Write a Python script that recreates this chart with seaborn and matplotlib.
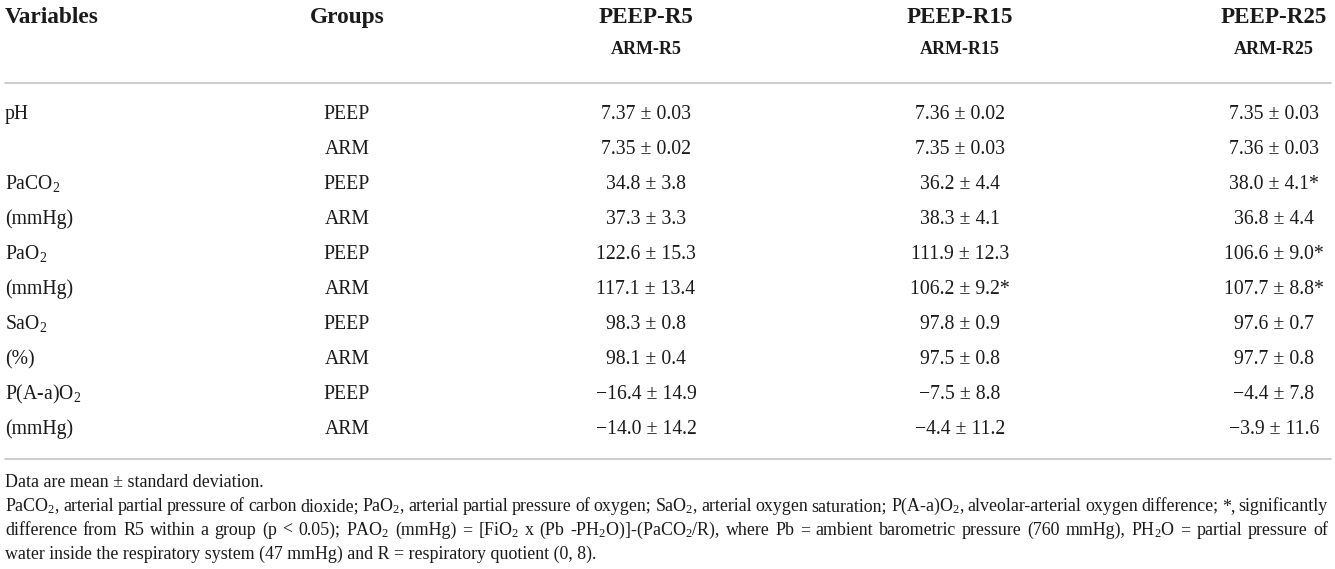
import matplotlib
matplotlib.use("Agg")
import matplotlib.pyplot as plt
import seaborn as sns
import pandas as pd

# table content
variables = ["pH", "", "PaCO$_2$", "(mmHg)", "PaO$_2$", "(mmHg)",
             "SaO$_2$", "(%)", "P(A-a)O$_2$", "(mmHg)"]
groups = ["PEEP", "ARM"] * 5
decimals = [2, 2, 1, 1, 1, 1, 1, 1, 1, 1]

r5_mean = [7.37, 7.35, 34.8, 37.3, 122.6, 117.1, 98.3, 98.1, -16.4, -14.0]
r5_sd = [0.03, 0.02, 3.8, 3.3, 15.3, 13.4, 0.8, 0.4, 14.9, 14.2]
r5_star = [0, 0, 0, 0, 0, 0, 0, 0, 0, 0]

r15_mean = [7.36, 7.35, 36.2, 38.3, 111.9, 106.2, 97.8, 97.5, -7.5, -4.4]
r15_sd = [0.02, 0.03, 4.4, 4.1, 12.3, 9.2, 0.9, 0.8, 8.8, 11.2]
r15_star = [0, 0, 0, 0, 0, 1, 0, 0, 0, 0]

r25_mean = [7.35, 7.36, 38.0, 36.8, 106.6, 107.7, 97.6, 97.7, -4.4, -3.9]
r25_sd = [0.03, 0.03, 4.1, 4.4, 9.0, 8.8, 0.7, 0.8, 7.8, 11.6]
r25_star = [0, 0, 1, 0, 1, 1, 0, 0, 0, 0]

col_top = ["PEEP-R5", "PEEP-R15", "PEEP-R25"]
col_sub = ["ARM-R5", "ARM-R15", "ARM-R25"]

notes = [
    "Data are mean \u00b1 standard deviation.",
    "PaCO$_2$, arterial partial pressure of carbon dioxide; PaO$_2$, arterial partial pressure of oxygen; "
    "SaO$_2$, arterial oxygen saturation; P(A-a)O$_2$, alveolar-arterial oxygen difference; *, significantly",
    "difference from R5 within a group (p < 0.05); PAO$_2$ (mmHg) = [FiO$_2$ x (Pb -PH$_2$O)]-(PaCO$_2$/R), "
    "where Pb = ambient barometric pressure (760 mmHg), PH$_2$O = partial pressure of",
    "water inside the respiratory system (47 mmHg) and R = respiratory quotient (0, 8).",
]
justified = [False, True, True, False]


def fmt(m, s, d, star):
    txt = f"{m:.{d}f} \u00b1 {s:.{d}f}".replace("-", "\u2212")
    if star:
        txt += "*"
    return txt


df = pd.DataFrame({"var": variables, "group": groups})
for name, mean, sd, star in [("R5", r5_mean, r5_sd, r5_star),
                             ("R15", r15_mean, r15_sd, r15_star),
                             ("R25", r25_mean, r25_sd, r25_star)]:
    df[name] = [fmt(m, s, d, st) for m, s, d, st in zip(mean, sd, decimals, star)]

sns.set_theme(style="white")
plt.rcParams["font.family"] = ["Liberation Serif", "DejaVu Serif"]
plt.rcParams["mathtext.fontset"] = "custom"
plt.rcParams["mathtext.rm"] = "Liberation Serif"
plt.rcParams["mathtext.it"] = "Liberation Serif:italic"
plt.rcParams["mathtext.bf"] = "Liberation Serif:bold"

W, H = 1335, 569
fig = plt.figure(figsize=(W / 100, H / 100), dpi=100)
ax = fig.add_axes([0, 0, 1, 1])
ax.set_xlim(0, W)
ax.set_ylim(H, 0)
ax.axis("off")

ink = "#1a1a1a"
rule = "#c8c8c8"
left, right = 5, 1328

# header
ax.text(left, 23, "Variables", fontsize=16.8, fontweight="bold", color=ink, va="baseline")
ax.text(347, 23, "Groups", fontsize=16.8, fontweight="bold", color=ink, va="baseline", ha="center")
col_x = [646, 960, 1274]
for x, top, sub in zip(col_x, col_top, col_sub):
    ax.text(x, 23, top, fontsize=16.6, fontweight="bold", color=ink, va="baseline", ha="center")
    ax.text(x, 54, sub, fontsize=13, fontweight="bold", color=ink, va="baseline", ha="center")

ax.axhline(83, xmin=left / W, xmax=1331 / W, color=rule, lw=1.3)

# rows
for i, row in df.iterrows():
    y = 119 + 35 * i
    ax.text(left, y, row["var"], fontsize=14.2, color=ink, va="baseline")
    ax.text(347, y, row["group"], fontsize=14.2, color=ink, va="baseline", ha="center")
    for x, c in zip(col_x, ["R5", "R15", "R25"]):
        ax.text(x, y, row[c], fontsize=14.2, color=ink, va="baseline", ha="center")

ax.axhline(459, xmin=left / W, xmax=1331 / W, color=rule, lw=1.3)

# footnotes, lines 2-3 justified to full width
renderer = fig.canvas.get_renderer()
for j, (line, just) in enumerate(zip(notes, justified)):
    y = 487 + 24 * j
    if not just:
        ax.text(left, y, line, fontsize=12.9, color=ink, va="baseline")
        continue
    words = line.split(" ")
    items = [ax.text(0, y, w, fontsize=12.9, color=ink, va="baseline") for w in words]
    widths = [t.get_window_extent(renderer).width for t in items]
    gap = (right - left - sum(widths)) / (len(words) - 1)
    x = left
    for t, w in zip(items, widths):
        t.set_x(x)
        x += w + gap

fig.savefig("out.png", dpi=100)
